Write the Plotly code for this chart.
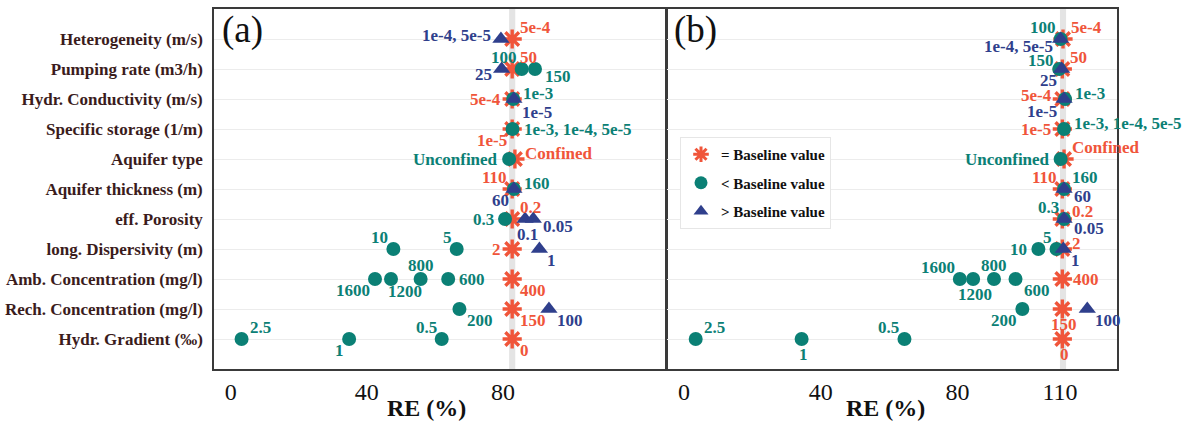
import plotly.graph_objects as go

PARAMS = [
    "Heterogeneity (m/s)", "Pumping rate (m3/h)", "Hydr. Conductivity (m/s)",
    "Specific storage (1/m)", "Aquifer type", "Aquifer thickness (m)",
    "eff. Porosity", "long. Dispersivity (m)", "Amb. Concentration (mg/l)",
    "Rech. Concentration (mg/l)", "Hydr. Gradient (‰)",
]

# ---------------- panel (a) ----------------
A_BASE_PARAM = PARAMS
A_BASE_RE = [82.7, 82.7, 82.7, 82.7, 83.5, 82.7, 82.7, 82.7, 82.7, 82.7, 82.7]
A_BASE_LABEL = ["5e-4", "50", "5e-4", "1e-5", "Confined", "110", "0.2", "2", "400", "150", "0"]

A_LOW_PARAM = [
    "Pumping rate (m3/h)", "Pumping rate (m3/h)", "Hydr. Conductivity (m/s)",
    "Specific storage (1/m)", "Aquifer type", "Aquifer thickness (m)", "eff. Porosity",
    "long. Dispersivity (m)", "long. Dispersivity (m)",
    "Amb. Concentration (mg/l)", "Amb. Concentration (mg/l)",
    "Amb. Concentration (mg/l)", "Amb. Concentration (mg/l)",
    "Rech. Concentration (mg/l)",
    "Hydr. Gradient (‰)", "Hydr. Gradient (‰)", "Hydr. Gradient (‰)",
]
A_LOW_RE = [85.5, 89.4, 83.0, 82.8, 81.8, 83.2, 80.6, 47.8, 66.4,
            42.4, 47.1, 55.8, 63.9, 67.2, 3.2, 34.8, 62.0]
A_LOW_LABEL = ["100", "150", "1e-3", "1e-3, 1e-4, 5e-5", "Unconfined", "160", "0.3",
               "10", "5", "1600", "1200", "800", "600", "200", "2.5", "1", "0.5"]

A_HIGH_PARAM = [
    "Heterogeneity (m/s)", "Pumping rate (m3/h)", "Hydr. Conductivity (m/s)",
    "Aquifer thickness (m)", "eff. Porosity", "eff. Porosity",
    "long. Dispersivity (m)", "Rech. Concentration (mg/l)",
]
A_HIGH_RE = [79.4, 79.6, 83.2, 83.2, 86.5, 88.9, 90.7, 93.5]
A_HIGH_LABEL = ["1e-4, 5e-5", "25", "1e-5", "60", "0.1", "0.05", "1", "100"]

# ---------------- panel (b) ----------------
B_BASE_PARAM = PARAMS
B_BASE_RE = [110.9, 110.7, 110.7, 110.7, 111.2, 110.7, 110.7, 110.7, 110.7, 110.7, 110.7]
B_BASE_LABEL = ["5e-4", "50", "5e-4", "1e-5", "Confined", "110", "0.2", "2", "400", "150", "0"]

B_LOW_PARAM = [
    "Heterogeneity (m/s)", "Pumping rate (m3/h)", "Hydr. Conductivity (m/s)",
    "Specific storage (1/m)", "Aquifer type", "Aquifer thickness (m)", "eff. Porosity",
    "long. Dispersivity (m)", "long. Dispersivity (m)",
    "Amb. Concentration (mg/l)", "Amb. Concentration (mg/l)",
    "Amb. Concentration (mg/l)", "Amb. Concentration (mg/l)",
    "Rech. Concentration (mg/l)",
    "Hydr. Gradient (‰)", "Hydr. Gradient (‰)", "Hydr. Gradient (‰)",
]
B_LOW_RE = [110.2, 109.8, 111.5, 111.2, 110.2, 111.2, 111.2, 103.7, 109.0,
            80.7, 84.6, 90.7, 97.0, 99.0, 3.4, 34.4, 64.5]
B_LOW_LABEL = ["100", "150", "1e-3", "1e-3, 1e-4, 5e-5", "Unconfined", "160", "0.3",
               "10", "5", "1600", "1200", "800", "600", "200", "2.5", "1", "0.5"]

B_HIGH_PARAM = [
    "Heterogeneity (m/s)", "Pumping rate (m3/h)", "Hydr. Conductivity (m/s)",
    "Aquifer thickness (m)", "eff. Porosity", "long. Dispersivity (m)",
    "Rech. Concentration (mg/l)",
]
B_HIGH_RE = [110.2, 110.5, 111.2, 111.2, 111.2, 111.0, 118.0]
B_HIGH_LABEL = ["1e-4, 5e-5", "25", "1e-5", "60", "0.05", "1", "100"]

# label placement codes relative to each marker
A_BASE_POS = ["tr", "tr", "l", "bl", "ru", "tl", "tr", "l", "br", "br", "br"]
A_LOW_POS = ["tl", "rd", "ru", "r", "l", "ru", "l", "tl", "tl", "bl", "bm", "t", "r",
             "br", "tr", "bl", "tl"]
A_HIGH_POS = ["lu", "ld", "brl", "bl", "b", "rd", "br", "br"]
B_BASE_POS = ["tr", "tr", "lu", "l", "tr", "tl", "ru2", "ru", "r", "b", "b"]
B_LOW_POS = ["tl", "tls", "ru", "ru", "l", "tr", "tl", "l", "tl", "tl", "b", "t", "br",
             "bl", "tr", "b", "tl"]
B_HIGH_POS = ["bls", "bl", "blw", "rd", "rd2", "br", "br"]

OFFSETS = {
    "r": (9, 0, "left"), "ru": (8, 6, "left"), "ru2": (8, 8, "left"),
    "rd": (8, -7, "left"), "rd2": (8, -9, "left"),
    "l": (-9, 0, "right"), "lu": (-8, 4, "right"), "ld": (-8, -5, "right"),
    "tr": (6, 12, "left"), "tl": (-3, 12, "right"), "tls": (-3, 9, "right"),
    "br": (6, -11, "left"), "brl": (6, -13, "left"),
    "bl": (-3, -11, "right"), "blw": (-5, -12, "right"), "bls": (-6, -7, "right"),
    "bm": (-5, -12, "left"),
    "t": (0, 14, "center"), "b": (2, -15, "center"),
}

RED = "#f0553a"
TEAL = "#0b8075"
NAVY = "#2f3f8c"
FONT = "Liberation Serif"

fig = go.Figure()

panels = [
    ("x", "y", A_BASE_PARAM, A_BASE_RE, A_BASE_LABEL, A_BASE_POS,
     A_LOW_PARAM, A_LOW_RE, A_LOW_LABEL, A_LOW_POS,
     A_HIGH_PARAM, A_HIGH_RE, A_HIGH_LABEL, A_HIGH_POS),
    ("x2", "y2", B_BASE_PARAM, B_BASE_RE, B_BASE_LABEL, B_BASE_POS,
     B_LOW_PARAM, B_LOW_RE, B_LOW_LABEL, B_LOW_POS,
     B_HIGH_PARAM, B_HIGH_RE, B_HIGH_LABEL, B_HIGH_POS),
]

annotations = []
shapes = []


def add_labels(xr, yr, params, values, labels, pos, color):
    for p, v, t, code in zip(params, values, labels, pos):
        dx, dy, anchor = OFFSETS[code]
        annotations.append(dict(
            x=v, y=p, xref=xr, yref=yr, text=t, showarrow=False,
            xanchor=anchor, yanchor="middle", xshift=dx, yshift=dy,
            font=dict(family=FONT, size=17, color=color, weight="bold"),
        ))


for (xr, yr, bp, bv, bl, bpos, lp, lv, ll, lpos, hp, hv, hl, hpos) in panels:
    base_x = bv[0]
    shapes.append(dict(type="rect", xref=xr, yref=f"{yr} domain",
                       x0=base_x - 0.9, x1=base_x + 0.9, y0=0, y1=1,
                       fillcolor="#e4e4e4", line=dict(width=0), layer="below"))
    fig.add_trace(go.Scatter(
        x=bv, y=bp, xaxis=xr, yaxis=yr, mode="markers", showlegend=False,
        marker=dict(symbol="asterisk-open", size=16, color=RED,
                    line=dict(width=3.4, color=RED)),
    ))
    fig.add_trace(go.Scatter(
        x=bv, y=bp, xaxis=xr, yaxis=yr, mode="markers", showlegend=False,
        marker=dict(symbol="circle", size=8, color=RED, line=dict(width=0)),
    ))
    fig.add_trace(go.Scatter(
        x=lv, y=lp, xaxis=xr, yaxis=yr, mode="markers", showlegend=False,
        marker=dict(symbol="circle", size=14, color=TEAL, line=dict(width=0)),
    ))
    fig.add_trace(go.Scatter(
        x=hv, y=hp, xaxis=xr, yaxis=yr, mode="markers", showlegend=False,
        marker=dict(symbol="triangle-up", size=15, color=NAVY, line=dict(width=0)),
    ))
    add_labels(xr, yr, bp, bv, bl, bpos, RED)
    add_labels(xr, yr, lp, lv, ll, lpos, TEAL)
    add_labels(xr, yr, hp, hv, hl, hpos, NAVY)

# legend entries
fig.add_trace(go.Scatter(x=[None], y=[None], xaxis="x2", yaxis="y2", mode="markers",
                         name="= Baseline value", legendgroup="g1",
                         marker=dict(symbol="asterisk-open", size=13, color=RED,
                                     line=dict(width=3, color=RED))))
fig.add_trace(go.Scatter(x=[None], y=[None], xaxis="x2", yaxis="y2", mode="markers",
                         name="&lt; Baseline value", legendgroup="g2",
                         marker=dict(symbol="circle", size=13, color=TEAL)))
fig.add_trace(go.Scatter(x=[None], y=[None], xaxis="x2", yaxis="y2", mode="markers",
                         name="&gt; Baseline value", legendgroup="g3",
                         marker=dict(symbol="triangle-up", size=13, color=NAVY)))

# panel tags and axis titles
for txt, xp in [("(a)", 0.1858), ("(b)", 0.5675)]:
    annotations.append(dict(x=xp, y=1.0, xref="paper", yref="paper", text=txt,
                            showarrow=False, xanchor="left", yanchor="top", yshift=2,
                            font=dict(family=FONT, size=37, color="#111111")))
for xp in [426 / 1184, 885 / 1184]:
    annotations.append(dict(x=xp, y=0, xref="paper", yref="paper", text="RE (%)",
                            showarrow=False, xanchor="center", yanchor="middle",
                            yshift=-(408 - 369),
                            font=dict(family=FONT, size=24, color="#111111", weight="bold")))

axis_common = dict(showline=True, mirror=True, linecolor="#3a3a3a", linewidth=1.6,
                   zeroline=False, ticks="")
yaxis_common = dict(type="category", categoryorder="array", categoryarray=PARAMS,
                    range=[11, -1], showgrid=True, gridcolor="#ececec", gridwidth=1,
                    **axis_common)

fig.update_layout(
    width=1184, height=423,
    margin=dict(l=0, r=0, t=9, b=54),
    paper_bgcolor="white", plot_bgcolor="white",
    xaxis=dict(domain=[214 / 1184, 665.7 / 1184], range=[-4.9, 127.8],
               tickvals=[0, 40, 80], showgrid=False,
               tickfont=dict(family=FONT, size=24, color="#111111"), **axis_common),
    xaxis2=dict(domain=[667 / 1184, 1117 / 1184], range=[-5.0, 126.7],
                tickvals=[0, 40, 80, 110], showgrid=False,
                tickfont=dict(family=FONT, size=24, color="#111111"), **axis_common),
    yaxis=dict(anchor="x", showticklabels=True, ticklabelstandoff=6,
               tickfont=dict(family=FONT, size=17, color="#3b1c1c", weight="bold"),
               **yaxis_common),
    yaxis2=dict(anchor="x2", showticklabels=False, **yaxis_common),
    legend=dict(x=680 / 1184, y=(369 - 137) / 360, xanchor="left", yanchor="top",
                bgcolor="white", bordercolor="#e6e6e6", borderwidth=1,
                tracegroupgap=6,
                font=dict(family=FONT, size=15, color="#111111", weight="bold")),
    annotations=annotations,
    shapes=shapes,
)

fig.write_html("out.html")
